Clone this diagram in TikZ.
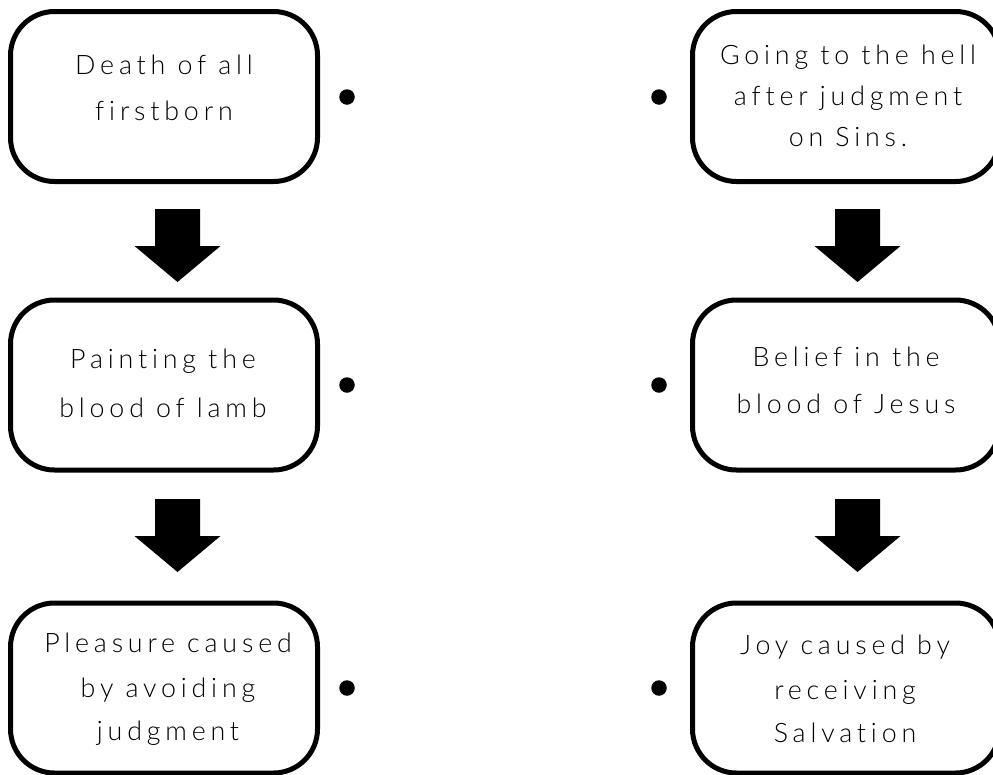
\documentclass[tikz,border=0pt]{standalone}
\usepackage{fontspec}
\setmainfont{Lato}[UprightFont=* Light,LetterSpace=18,Ligatures={NoCommon,NoRare}]
\begin{document}
\begin{tikzpicture}[x=1pt,y=-1pt,
 card/.style={draw,line width=5pt,rounded corners=44pt,minimum width=307pt,minimum height=170pt,inner sep=0pt},
 cardtext/.style={inner sep=0pt,align=center,font=\fontsize{26.8}{46}\selectfont},
 dot/.style={circle,fill=black,minimum size=15.5pt,inner sep=0pt},
 bigarrow/.style={fill=black,draw=none}]
\useasboundingbox (0,0) rectangle (993,774);
\clip (0,0) rectangle (993,774);
\node[card] (a1) at (164,96.5) {};
\node[card] (a2) at (164,385) {};
\node[card] (a3) at (164,688) {};
\node[card] (b1) at (846,96.5) {};
\node[card] (b2) at (846,385) {};
\node[card] (b3) at (846,688) {};
\node[cardtext] (ta1) at (164,88) {Death of all\\firstborn};
\node[cardtext] (ta2) at (163,383) {Painting the\\[3pt]blood of lamb};
\node[cardtext] (ta3) at (168,689) {Pleasure caused\\[-1pt]by avoiding\\[-3pt]judgment};
\node[cardtext] (tb1) at (848,96) {Going to the hell\\[-5pt]after judgment\\[-5pt]on Sins.};
\node[cardtext] (tb2) at (846,380) {Belief in the\\[1pt]blood of Jesus};
\node[cardtext] (tb3) at (845,689) {Joy caused by\\[-1pt]receiving\\[-3pt]Salvation};
\foreach \n/\x/\y in {d1/347/97,d2/347/385,d3/347/688,e1/659/97,e2/659/385,e3/659/688}
 \node[dot] (\n) at (\x,\y) {};
\foreach \x/\y in {177.5/209,177.5/499,857.5/209,857.5/499}
 \fill[bigarrow] (\x-22.5,\y) -- (\x+22.5,\y) -- (\x+22.5,\y+37) -- (\x+43,\y+37) -- (\x,\y+73) -- (\x-43,\y+37) -- (\x-22.5,\y+37) -- cycle;
\end{tikzpicture}
\end{document}
